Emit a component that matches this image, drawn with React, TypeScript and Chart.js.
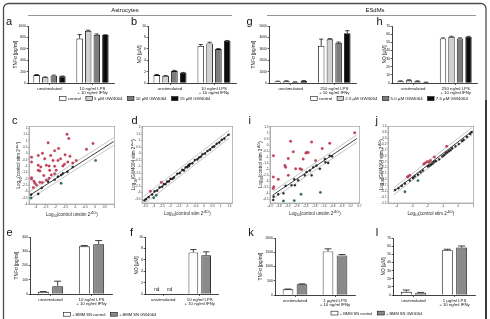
import { useEffect, useRef } from "react";
import { Chart, registerables } from "chart.js";

Chart.register(...registerables);

const FONT = "'Liberation Sans', Arial, Helvetica, sans-serif";
Chart.defaults.font.family = FONT;

const INK = "#111111";
const AXIS_GREY = "#8f8f8f";
const UP_RED = "#c9415b";
const UP_EDGE = "#a12c43";
const FLAT_DARK = "#2b2b2b";
const DOWN_TEAL = "#2f7466";

// ---------------- values ----------------
// Astrocytes, panels a and b
const astroCategories = ["unstimulated", ["10 ng/ml LPS", "+ 10 ng/ml IFNγ"]];
const astroTreatments = ["control", "5 µM GW4064", "10 µM GW4064", "15 µM GW4064"];
const astroTnf = [[140, 780], [100, 915], [128, 845], [117, 840]];
const astroTnfSem = [[8, 70], [6, 10], [10, 15], [5, 6]];
const astroNo = [[1.4, 6.5], [1.25, 6.95], [2.1, 5.95], [1.8, 7.4]];
const astroNoSem = [[0.1, 0.25], [0.05, 0.2], [0.12, 0.08], [0.05, 0.06]];

// ESdMs, panels g and h
const esdmCategories = ["unstimulated", ["250 ng/ml LPS", "+ 10 ng/ml IFNγ"]];
const esdmTreatments = ["control", "2.5 µM GW4064", "5.0 µM GW4064", "7.5 µM GW4064"];
const esdmTnf = [[130, 3250], [150, 3830], [80, 3530], [180, 4370]];
const esdmTnfSem = [[30, 600], [40, 60], [20, 60], [30, 220]];
const esdmNo = [[2.1, 54.8], [3.3, 56.8], [2.1, 54.8], [0.8, 56.8]];
const esdmNoSem = [[0.5, 0.5], [0.6, 0.6], [0.5, 0.6], [0.2, 0.5]];

// Supernatant transfer, panels e, f, k, l
const snTreatments = ["+ BMM SN control", "+ BMM SN GW4064"];
const astroSnCategories = ["unstimulated", ["10 ng/ml LPS", "+ 10 ng/ml IFNγ"]];
const astroSnTnf = [[15, 335], [55, 350]];
const astroSnTnfSem = [[2, 5], [35, 25]];
const astroSnNo: (number | null)[][] = [[null, 7.3], [null, 6.8]];
const astroSnNoSem = [[0, 0.5], [0, 0.6]];
const astroSnNoNotes = ["nd", null];
const esdmSnCategories = ["unstimulated", ["1 µg/ml LPS", "+ 10 ng/ml IFNγ"]];
const esdmSnTnf = [[200, 1530], [380, 1390]];
const esdmSnTnfSem = [[10, 90], [10, 30]];
const esdmSnNo = [[4.0, 55], [2.8, 58.3]];
const esdmSnNoSem = [[2.1, 1.2], [0.4, 1.9]];

// Gene expression scatter, log10(2^-dCt); up / unchanged / down groups
const cUp = [
  [-1.42, 1.52], [-1.33, 1.18], [-2.38, 0.84], [-0.1, 0.79], [-0.43, 0.33], [-1.85, 0.4],
  [-2.05, 0.22], [-2.67, 0.02], [-1.52, -0.11], [-2.25, -0.16], [-3.22, -0.29], [-2.88, -0.16],
  [-1.27, -0.22], [-2.55, -0.42], [-3.22, -0.68], [-2.13, -0.55], [-1.88, -0.55], [-1.38, -0.68],
  [-2.88, -0.94], [-2.47, -0.94], [-2.33, -0.99], [-2.75, -1.07], [-2.05, -1.01], [-1.63, -0.99],
  [-2.88, -1.33], [-2.8, -1.38], [-2.3, -1.33], [-1.97, -1.33], [-3.22, -1.92], [-3.22, -2.02],
  [-2.22, -1.71], [-2.05, -1.6], [-2.33, -1.97], [-2.47, -2.1], [-2.8, -2.28], [-2.97, -2.49],
  [-3.13, -2.7], [-2.67, -2.3], [-3.05, -2.36], [-1.13, -0.75], [-1.75, -0.42], [-0.95, -0.55],
  [-3.1, -2.2], [-2.6, -1.75], [-1.55, -0.85],
];
const cFlat = [
  [-3.24, -3.26], [-2.88, -3.2], [-2.7, -2.72], [-2.38, -2.23], [-2.05, -2.08], [-1.88, -1.84],
  [-1.72, -1.71], [-1.63, -1.58], [-1.4, -1.45], [-1.13, -1.07],
];
const cDown = [[-3.24, -3.52], [-1.72, -2.36], [0.03, -0.55]];

const dUp = [[-3.2, -2.9], [-2.55, -2.2]];
const dFlat = [
  [-3.55, -3.6], [-3.45, -3.5], [-3.3, -3.35], [-3.1, -3.15], [-2.95, -2.9], [-2.8, -2.85],
  [-2.65, -2.6], [-2.5, -2.55], [-2.4, -2.35], [-2.3, -2.35], [-2.2, -2.15], [-2.1, -2.15],
  [-2.0, -1.95], [-1.9, -1.95], [-1.8, -1.85], [-1.6, -1.55], [-1.45, -1.5], [-1.3, -1.25],
  [-1.2, -1.3], [-1.1, -1.05], [-1.0, -1.05], [-0.95, -0.9], [-0.9, -0.95], [-0.85, -0.8],
  [-0.7, -0.75], [-0.55, -0.5], [-0.4, -0.45], [-0.3, -0.3], [-0.2, -0.25], [-0.1, -0.05],
  [0.05, 0.0], [0.2, 0.2], [0.35, 0.3], [0.5, 0.5], [0.6, 0.55], [0.75, 0.75], [0.9, 0.85],
  [1.05, 1.05], [1.2, 1.15], [1.45, 1.45],
];
const dDown = [[-3.0, -3.4], [-2.85, -3.2]];

const iUp = [
  [0.42, 1.01], [-3.15, 0.31], [-1.98, 0.25], [-0.97, 0.14], [-3.0, -0.56], [-4.11, -0.89],
  [-2.26, -0.62], [-2.3, -0.67], [-2.17, -0.62], [-1.39, -0.29], [-3.28, -1.11], [-2.45, -1.16],
  [-3.47, -1.7], [-3.43, -1.84], [-1.76, -1.29], [-2.63, -1.97], [-2.54, -2.02], [-2.87, -1.97],
  [-3.28, -2.51], [-4.12, -2.65], [-3.84, -2.84], [-4.12, -3.59], [-4.09, -3.46],
];
const iFlat = [
  [-1.24, -1.16], [-0.97, -0.89], [-0.84, -0.94], [-1.21, -1.43], [-1.06, -1.48], [-1.71, -1.7],
  [-1.89, -1.84], [-2.08, -2.11], [-2.26, -2.24], [-2.36, -2.51], [-2.73, -2.92], [-2.91, -3.33],
  [-3.1, -3.33], [-3.55, -4.0], [-3.84, -4.08], [-4.1, -4.28], [-4.12, -4.55], [-1.52, -1.97],
  [-1.98, -2.51], [-2.95, -2.84], [-3.43, -3.38],
];
const iDown = [[-2.57, -4.08], [-2.95, -4.6], [-3.55, -4.63], [-1.49, -3.92]];

const jUp = [
  [-3.27, -2.95], [-3.16, -2.85], [-3.31, -3.0], [-2.25, -1.9], [-2.03, -1.7], [-1.93, -1.72],
  [-1.82, -1.6], [-2.16, -1.8], [-0.76, -0.4], [-1.57, -1.3],
];
const jFlat = [
  [-4.12, -4.1], [-3.9, -3.95], [-3.69, -3.75], [-3.48, -3.55], [-3.16, -3.3], [-2.95, -3.1],
  [-2.84, -2.95], [-2.63, -2.8], [-2.46, -2.6], [-2.31, -2.45], [-1.99, -2.1], [-1.89, -2.05],
  [-1.78, -1.95], [-1.67, -1.85], [-1.57, -1.7], [-1.46, -1.65], [-1.25, -1.5], [-1.04, -1.25],
  [-0.93, -1.15], [-0.82, -1.0], [-0.72, -0.9], [-0.61, -0.8], [-0.5, -0.7], [-0.4, -0.55],
  [-0.19, -0.4], [0.03, -0.2], [0.24, 0.05], [0.34, 0.15], [0.56, 0.4], [0.77, 0.65], [0.87, 0.8],
];
const jDown = [[-3.48, -4.25], [-2.63, -3.3]];

// identity line extent and the two-fold band around it
const foldBand = 0.3;
const cLine = [-3.3, 0.95];
const dLine = [-3.6, 1.5];
const iLine = [-4.15, 0.55];
const jLine = [-4.2, 0.9];

// ---------------- styling / layout ----------------
const doseFills = ["#ffffff", "#d0d0d0", "#7d7d7d", "#0b0b0b"];
const snFills = ["#ffffff", "#8a8a8a"];

type Area = { l: number; r: number; t: number; b: number; titleX: number };

const PAD_TOP = 3;
const PAD_RIGHT = 2;
const BAR_XH = 14;
const SC_XH = 14;

const tickText = (v: number | string) => String(v);

let measureCtx: CanvasRenderingContext2D | null = null;
function textWidth(t: string, size: number) {
  if (!measureCtx) measureCtx = document.createElement("canvas").getContext("2d");
  if (!measureCtx) return t.length * size * 0.55;
  measureCtx.font = `${size}px ${FONT}`;
  return measureCtx.measureText(t).width;
}

function semPlugin(errors: number[][]) {
  return {
    id: "semBars",
    afterDatasetsDraw(chart: any) {
      const ctx = chart.ctx;
      const y = chart.scales.y;
      chart.data.datasets.forEach((ds: any, i: number) => {
        const meta = chart.getDatasetMeta(i);
        meta.data.forEach((bar: any, j: number) => {
          const v = ds.data[j];
          const e = errors[i][j];
          if (v == null || !e) return;
          const y0 = y.getPixelForValue(v);
          const y1 = y.getPixelForValue(v + e);
          const half = bar.width * 0.32;
          ctx.save();
          ctx.strokeStyle = INK;
          ctx.lineWidth = 0.8;
          ctx.beginPath();
          ctx.moveTo(bar.x, y0);
          ctx.lineTo(bar.x, y1);
          ctx.moveTo(bar.x - half, y1);
          ctx.lineTo(bar.x + half, y1);
          ctx.stroke();
          ctx.restore();
        });
      });
    },
  };
}

function notePlugin(notes: (string | null)[]) {
  return {
    id: "notDetected",
    afterDatasetsDraw(chart: any) {
      const ctx = chart.ctx;
      const base = chart.scales.y.getPixelForValue(0);
      chart.data.datasets.forEach((_ds: any, i: number) => {
        const meta = chart.getDatasetMeta(i);
        notes.forEach((n, j) => {
          if (!n) return;
          const el = meta.data[j];
          ctx.save();
          ctx.font = `4.6px ${FONT}`;
          ctx.fillStyle = INK;
          ctx.textAlign = "center";
          ctx.textBaseline = "alphabetic";
          ctx.fillText(n, el.x, base - 2.6);
          ctx.restore();
        });
      });
    },
  };
}

type BarProps = {
  area: Area;
  categories: (string | string[])[];
  names: string[];
  values: (number | null)[][];
  errors: number[][];
  fills: string[];
  yMax: number;
  yStep: number;
  yTitle: string;
  catPct: number;
  barPct: number;
  notes?: (string | null)[];
};

function BarPanel(p: BarProps) {
  const ref = useRef<HTMLCanvasElement>(null);
  const left = Math.round(p.area.titleX - 2.7);
  const top = p.area.t - PAD_TOP;
  const width = Math.round(p.area.r + PAD_RIGHT - left);
  const height = p.area.b + BAR_XH - top;
  useEffect(() => {
    const yW = p.area.l - left;
    const plugins: any[] = [semPlugin(p.errors)];
    if (p.notes) plugins.push(notePlugin(p.notes));
    const chart = new Chart(ref.current as HTMLCanvasElement, {
      type: "bar",
      data: {
        labels: p.categories as any,
        datasets: p.names.map((name, i) => ({
          label: name,
          data: p.values[i] as any,
          backgroundColor: p.fills[i],
          borderColor: INK,
          borderWidth: 0.9,
          categoryPercentage: p.catPct,
          barPercentage: p.barPct,
        })),
      },
      options: {
        responsive: false,
        animation: false,
        events: [],
        devicePixelRatio: 1,
        layout: { padding: { top: PAD_TOP, right: PAD_RIGHT, left: 0, bottom: 0 } },
        plugins: { legend: { display: false }, tooltip: { enabled: false } },
        scales: {
          x: {
            grid: { display: true, drawOnChartArea: false, offset: false, tickLength: 2, color: INK, lineWidth: 0.7 },
            border: { display: true, color: INK, width: 0.8 },
            ticks: {
              font: { size: 4.3, family: FONT, lineHeight: 1.05 },
              color: INK,
              padding: 1.4,
              maxRotation: 0,
              minRotation: 0,
              autoSkip: false,
            },
            afterFit: (s: any) => {
              s.height = BAR_XH;
            },
          },
          y: {
            min: 0,
            max: p.yMax,
            ticks: { stepSize: p.yStep, font: { size: 3.4, family: FONT }, color: INK, padding: 0.6, callback: tickText },
            grid: { drawOnChartArea: false, tickLength: 1.4, color: INK, lineWidth: 0.7 },
            border: { display: true, color: INK, width: 0.8 },
            title: { display: true, text: p.yTitle, font: { size: 4.8, family: FONT }, color: INK, padding: 0 },
            afterFit: (s: any) => {
              s.width = yW;
            },
          },
        },
      } as any,
      plugins,
    });
    return () => chart.destroy();
  }, []);
  return (
    <canvas
      ref={ref}
      width={width}
      height={height}
      style={{ position: "absolute", left, top, width, height }}
    />
  );
}

// draws "Log_{10}(... 2^{-ΔCt})" with real sub- and superscripts
function drawRich(ctx: CanvasRenderingContext2D, text: string, x: number, y: number, size: number, vertical: boolean) {
  const segs: { t: string; k: number }[] = [];
  const re = /([_^])\{([^}]*)\}|([^_^]+)/g;
  let m: RegExpExecArray | null;
  while ((m = re.exec(text))) {
    if (m[3]) segs.push({ t: m[3], k: 0 });
    else segs.push({ t: m[2], k: m[1] === "_" ? 1 : 2 });
  }
  const small = size * 0.68;
  const widths = segs.map((s) => {
    ctx.font = `${s.k ? small : size}px ${FONT}`;
    return ctx.measureText(s.t).width;
  });
  const total = widths.reduce((a, b) => a + b, 0);
  ctx.save();
  ctx.translate(x, y);
  if (vertical) ctx.rotate(-Math.PI / 2);
  ctx.fillStyle = "#222";
  ctx.textAlign = "left";
  ctx.textBaseline = "alphabetic";
  let cx = -total / 2;
  segs.forEach((s, i) => {
    ctx.font = `${s.k ? small : size}px ${FONT}`;
    const dy = s.k === 1 ? size * 0.28 : s.k === 2 ? -size * 0.42 : 0;
    ctx.fillText(s.t, cx, dy);
    cx += widths[i];
  });
  ctx.restore();
}

type ScatterProps = {
  area: Area;
  xRange: number[];
  yRange: number[];
  xStep: number;
  yStep: number;
  up: number[][];
  flat: number[][];
  down: number[][];
  line: number[];
  xTitle: string;
  yTitle: string;
};

function ScatterPanel(p: ScatterProps) {
  const ref = useRef<HTMLCanvasElement>(null);
  const left = Math.round(p.area.titleX - 3);
  const top = p.area.t - PAD_TOP;
  const width = Math.round(p.area.r + 3 - left);
  const height = p.area.b + SC_XH - top;
  useEffect(() => {
    const yW = p.area.l - left;
    const titleSize = 4.5;
    const titleBaseX = p.area.titleX - left + titleSize * 0.35;
    const pts = (arr: number[][]) => arr.map(([x, y]) => ({ x, y }));
    const [x0, x1] = p.line;
    const frameAndTitles = {
      id: "frameAndTitles",
      beforeDatasetsDraw(chart: any) {
        const { ctx, chartArea: a } = chart;
        ctx.save();
        ctx.strokeStyle = AXIS_GREY;
        ctx.lineWidth = 0.6;
        ctx.strokeRect(a.left, a.top, a.right - a.left, a.bottom - a.top);
        ctx.restore();
      },
      afterDraw(chart: any) {
        const { ctx, chartArea: a } = chart;
        drawRich(ctx, p.xTitle, (a.left + a.right) / 2, a.bottom + 11.5, titleSize, false);
        drawRich(ctx, p.yTitle, titleBaseX, (a.top + a.bottom) / 2, titleSize, true);
      },
    };
    const lineSet = (shift: number, color: string, w: number) => ({
      data: [
        { x: x0, y: x0 + shift },
        { x: x1, y: x1 + shift },
      ],
      showLine: true,
      borderColor: color,
      borderWidth: w,
      pointRadius: 0,
    });
    const chart = new Chart(ref.current as HTMLCanvasElement, {
      type: "scatter",
      data: {
        datasets: [
          { data: pts(p.up), backgroundColor: UP_RED, borderColor: UP_EDGE, borderWidth: 0.3, pointRadius: 1.25 },
          { data: pts(p.flat), backgroundColor: FLAT_DARK, borderColor: "#000", borderWidth: 0.3, pointRadius: 1.1 },
          { data: pts(p.down), backgroundColor: DOWN_TEAL, borderColor: "#1d4c42", borderWidth: 0.3, pointRadius: 1.2 },
          lineSet(0, "#000", 0.75),
          lineSet(foldBand, "#8a8a8a", 0.5),
          lineSet(-foldBand, "#8a8a8a", 0.5),
        ] as any,
      },
      options: {
        responsive: false,
        animation: false,
        events: [],
        devicePixelRatio: 1,
        layout: { padding: { top: PAD_TOP, right: 3, left: 0, bottom: 0 } },
        plugins: { legend: { display: false }, tooltip: { enabled: false } },
        scales: {
          x: {
            type: "linear",
            min: p.xRange[0],
            max: p.xRange[1],
            ticks: {
              stepSize: p.xStep,
              includeBounds: false,
              font: { size: 3, family: FONT },
              color: "#333",
              padding: 0.4,
              maxRotation: 0,
              autoSkip: false,
              callback: tickText,
            },
            grid: { drawOnChartArea: false, tickLength: 1.2, color: AXIS_GREY, lineWidth: 0.5 },
            border: { display: true, color: AXIS_GREY, width: 0.6 },
            afterFit: (s: any) => {
              s.height = SC_XH;
            },
          },
          y: {
            type: "linear",
            min: p.yRange[0],
            max: p.yRange[1],
            ticks: {
              stepSize: p.yStep,
              includeBounds: false,
              font: { size: 3, family: FONT },
              color: "#333",
              padding: 0.5,
              autoSkip: false,
              callback: tickText,
            },
            grid: { drawOnChartArea: false, tickLength: 1.2, color: AXIS_GREY, lineWidth: 0.5 },
            border: { display: true, color: AXIS_GREY, width: 0.6 },
            afterFit: (s: any) => {
              s.width = yW;
            },
          },
        },
      } as any,
      plugins: [frameAndTitles],
    });
    return () => chart.destroy();
  }, []);
  return (
    <canvas
      ref={ref}
      width={width}
      height={height}
      style={{ position: "absolute", left, top, width, height }}
    />
  );
}

type LegendProps = { names: string[]; fills: string[]; x0: number; y: number; w: number; h: number; size: number };

// swatch, label, swatch, label ... laid out from the measured label widths
function LegendRow(p: LegendProps) {
  const items: { n: string; sx: number; tx: number; fill: string }[] = [];
  let x = p.x0;
  p.names.forEach((n, i) => {
    items.push({ n, sx: x, tx: x + p.w + 1.7, fill: p.fills[i] });
    x += p.w + 1.7 + textWidth(n, p.size) + 5;
  });
  const base = p.y + p.h / 2 + p.size * 0.36;
  return (
    <g>
      {items.map((it) => (
        <g key={it.n}>
          <rect x={it.sx} y={p.y} width={p.w} height={p.h} fill={it.fill} stroke={INK} strokeWidth={0.6} />
          <text x={it.tx} y={base} fontSize={p.size} fill={INK}>
            {it.n}
          </text>
        </g>
      ))}
    </g>
  );
}

const panelLetters: [string, number, number][] = [
  ["a", 6, 25], ["b", 131, 25], ["g", 246.5, 24.5], ["h", 376.5, 25],
  ["c", 12, 124], ["d", 131.5, 124.3], ["i", 248.5, 124.3], ["j", 375.5, 124.3],
  ["e", 6.5, 235.7], ["f", 130, 235.7], ["k", 248.3, 235.7], ["l", 375.7, 235.7],
];

function Overlay() {
  return (
    <svg
      width={490}
      height={319}
      style={{ position: "absolute", left: 0, top: 0, pointerEvents: "none" }}
      fontFamily={FONT}
    >
      <rect x={3.5} y={3.5} width={482.5} height={340} rx={5} fill="none" stroke="#4d4d4d" strokeWidth={1.3} />
      <line x1={486} x2={486} y1={100} y2={319} stroke="#1a1a1a" strokeWidth={1.4} />
      <text x={125} y={12} fontSize={5.9} textAnchor="middle" fill={INK}>Astrocytes</text>
      <line x1={28} x2={232} y1={15.5} y2={15.5} stroke="#666" strokeWidth={0.7} />
      <text x={375} y={12} fontSize={5.9} textAnchor="middle" fill={INK}>ESdMs</text>
      <line x1={267} x2={476} y1={15.5} y2={15.5} stroke="#666" strokeWidth={0.7} />
      {panelLetters.map(([t, x, y]) => (
        <text key={t} x={x} y={y} fontSize={11} fill={INK}>{t}</text>
      ))}
      <LegendRow names={astroTreatments} fills={doseFills} x0={59.5} y={96.6} w={6.5} h={4} size={4.4} />
      <LegendRow names={esdmTreatments} fills={doseFills} x0={310.7} y={96.6} w={6.5} h={4} size={4.4} />
      <LegendRow names={snTreatments} fills={snFills} x0={63.3} y={312.4} w={7} h={3.8} size={4.1} />
      <LegendRow names={snTreatments} fills={snFills} x0={331} y={311.2} w={7} h={3.8} size={4.0} />
    </svg>
  );
}

export default function App() {
  return (
    <div style={{ position: "absolute", left: 0, top: 0, width: 490, height: 319, background: "#fff", overflow: "hidden" }}>
      <BarPanel area={{ l: 28, r: 114, t: 26, b: 83, titleX: 15.3 }} categories={astroCategories} names={astroTreatments}
        values={astroTnf} errors={astroTnfSem} fills={doseFills} yMax={1000} yStep={200} yTitle="TNFα [pg/ml]" catPct={0.8} barPct={0.75} />
      <BarPanel area={{ l: 148, r: 236, t: 26, b: 83, titleX: 140 }} categories={astroCategories} names={astroTreatments}
        values={astroNo} errors={astroNoSem} fills={doseFills} yMax={10} yStep={2} yTitle="NO [µM]" catPct={0.8} barPct={0.75} />
      <BarPanel area={{ l: 269, r: 356, t: 26, b: 83, titleX: 254 }} categories={esdmCategories} names={esdmTreatments}
        values={esdmTnf} errors={esdmTnfSem} fills={doseFills} yMax={5000} yStep={1000} yTitle="TNFα [pg/ml]" catPct={0.8} barPct={0.75} />
      <BarPanel area={{ l: 392, r: 477, t: 26, b: 83, titleX: 385 }} categories={esdmCategories} names={esdmTreatments}
        values={esdmNo} errors={esdmNoSem} fills={doseFills} yMax={70} yStep={10} yTitle="NO [µM]" catPct={0.8} barPct={0.75} />

      <ScatterPanel area={{ l: 29, r: 116, t: 125, b: 204, titleX: 18.7 }} xRange={[-3.35, 1.0]} yRange={[-4.0, 2.15]} xStep={0.5} yStep={0.5}
        up={cUp} flat={cFlat} down={cDown} line={cLine}
        xTitle="Log_{10}(control unstim 2^{-ΔCt})" yTitle="Log_{10}(control stim 2^{-ΔCt})" />
      <ScatterPanel area={{ l: 142, r: 234, t: 125, b: 203, titleX: 133.7 }} xRange={[-3.7, 1.7]} yRange={[-3.8, 2.1]} xStep={0.5} yStep={0.5}
        up={dUp} flat={dFlat} down={dDown} line={dLine}
        xTitle="Log_{10}(control stim 2^{-ΔCt})" yTitle="Log_{10}(GW4064 stim 2^{-ΔCt})" />
      <ScatterPanel area={{ l: 270, r: 361, t: 125, b: 203, titleX: 260.3 }} xRange={[-4.3, 0.7]} yRange={[-4.8, 1.55]} xStep={0.5} yStep={0.5}
        up={iUp} flat={iFlat} down={iDown} line={iLine}
        xTitle="Log_{10}(control unstim 2^{-ΔCt})" yTitle="Log_{10}(control stim 2^{-ΔCt})" />
      <ScatterPanel area={{ l: 388, r: 475, t: 125, b: 203, titleX: 381 }} xRange={[-4.58, 1.0]} yRange={[-5.2, 1.3]} xStep={1} yStep={0.5}
        up={jUp} flat={jFlat} down={jDown} line={jLine}
        xTitle="Log_{10}(control stim 2^{-ΔCt})" yTitle="Log_{10}(GW4064 stim 2^{-ΔCt})" />

      <BarPanel area={{ l: 30, r: 112, t: 237, b: 294, titleX: 17 }} categories={astroSnCategories} names={snTreatments}
        values={astroSnTnf} errors={astroSnTnfSem} fills={snFills} yMax={400} yStep={100} yTitle="TNFα [pg/ml]" catPct={0.7} barPct={0.76} />
      <BarPanel area={{ l: 145, r: 218, t: 237, b: 294, titleX: 136.7 }} categories={astroSnCategories} names={snTreatments}
        values={astroSnNo} errors={astroSnNoSem} fills={snFills} yMax={10} yStep={2} yTitle="NO [µM]" catPct={0.7} barPct={0.76}
        notes={astroSnNoNotes} />
      <BarPanel area={{ l: 275, r: 355, t: 238, b: 295, titleX: 261 }} categories={esdmSnCategories} names={snTreatments}
        values={esdmSnTnf} errors={esdmSnTnfSem} fills={snFills} yMax={2000} yStep={500} yTitle="TNFα [pg/ml]" catPct={0.7} barPct={0.76} />
      <BarPanel area={{ l: 393, r: 475, t: 238, b: 295, titleX: 383.3 }} categories={esdmSnCategories} names={snTreatments}
        values={esdmSnNo} errors={esdmSnNoSem} fills={snFills} yMax={70} yStep={10} yTitle="NO [µM]" catPct={0.7} barPct={0.76} />

      <Overlay />
    </div>
  );
}
